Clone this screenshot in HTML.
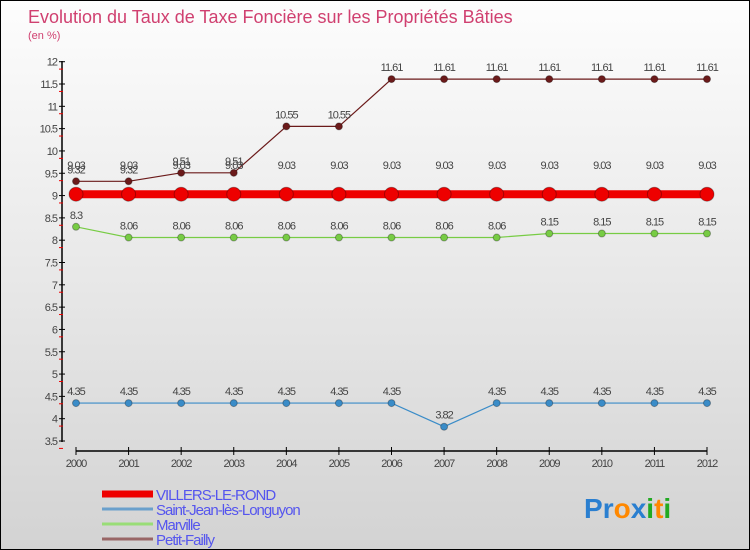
<!DOCTYPE html>
<html><head><meta charset="utf-8"><style>
body{margin:0}
#c{width:750px;height:550px;position:relative;background:linear-gradient(#fdfdfd,#d3d3d3);font-family:"Liberation Sans",sans-serif;overflow:hidden;box-sizing:border-box;border:1px solid #000}
</style></head><body>
<div id="c">
<svg id="s" width="750" height="550" style="position:absolute;left:0;top:0"></svg>
</div>
<script>
const years=[2000,2001,2002,2003,2004,2005,2006,2007,2008,2009,2010,2011,2012];
const villers=[9.03,9.03,9.03,9.03,9.03,9.03,9.03,9.03,9.03,9.03,9.03,9.03,9.03];
const saintJean=[4.35,4.35,4.35,4.35,4.35,4.35,4.35,3.82,4.35,4.35,4.35,4.35,4.35];
const marville=[8.3,8.06,8.06,8.06,8.06,8.06,8.06,8.06,8.06,8.15,8.15,8.15,8.15];
const petitFailly=[9.32,9.32,9.51,9.51,10.55,10.55,11.61,11.61,11.61,11.61,11.61,11.61,11.61];
const yTicks=[3.5,4,4.5,5,5.5,6,6.5,7,7.5,8,8.5,9,9.5,10,10.5,11,11.5,12];
const seriesNames=["VILLERS-LE-ROND","Saint-Jean-lès-Longuyon","Marville","Petit-Failly"];
const NS="http://www.w3.org/2000/svg",s=document.getElementById('s');
const X=i=>75+i*(706-75)/12, Y=v=>440-(v-3.5)*(440-60.7)/8.5;
function el(t,a,txt){const e=document.createElementNS(NS,t);for(const k in a)e.setAttribute(k,a[k]);if(txt!=null)e.textContent=txt;s.appendChild(e);return e;}
let e;
e=el('text',{x:27,y:22,'font-size':18,fill:'#d04070'},'Evolution du Taux de Taxe Foncière sur les Propriétés Bâties');

e=el('text',{x:27,y:38,'font-size':11,fill:'#d04070'},'(en %)');

e=el('line',{x1:61,y1:60,x2:61,y2:441,stroke:'#000','stroke-width':1.5});

yTicks.forEach(v=>{const y=Y(v);
 el('line',{x1:58,x2:64,y1:y,y2:y,stroke:'#000'});
 const r=el('line',{x1:58,x2:62,y1:y+7.4,y2:y+7.4,stroke:'#e00'});
 e=el('text',{x:56,y:y+4,'font-size':11,'text-anchor':'end',fill:'#444','letter-spacing':'-1'},String(v));
 
});
e=el('line',{x1:75,y1:450,x2:706,y2:450,stroke:'#000','stroke-width':1.5});

years.forEach((yr,i)=>{el('line',{x1:X(i),x2:X(i),y1:446,y2:454,stroke:'#000'});
 e=el('text',{x:X(i),y:466,'font-size':11,'text-anchor':'middle',fill:'#444','letter-spacing':'-1'},String(yr));
 });
function series(data,color,w,r,name,labelDy){
 e=el('polyline',{points:data.map((v,i)=>X(i)+','+Y(v)).join(' '),fill:'none',stroke:color,'stroke-width':w});
 
 data.forEach((v,i)=>{e=el('circle',{cx:X(i),cy:Y(v),r:r,fill:color,stroke:'rgba(0,0,0,0.3)'});
  
  e=el('text',{x:X(i),y:Y(v)+labelDy,'font-size':11,'text-anchor':'middle',fill:'#444','letter-spacing':'-1'},String(v));
  });
}
series(saintJean,'#3a8cc8',1.2,3.5,'saint-jean',-8);
series(marville,'#77cc44',1.2,3.5,'marville',-8);
series(petitFailly,'#6b1a1a',1.2,3.5,'petit-failly',-8);
series(villers,'#ee0000',8,7,'villers',-25);
const legColors=['#ee0000','#6aa0cc','#99dd77','#996666'],legW=[7,3,3,3];
seriesNames.forEach((n,i)=>{const y=493+i*15;
 e=el('line',{x1:101,x2:152,y1:y,y2:y,stroke:legColors[i],'stroke-width':legW[i]});
 
 e=el('text',{x:155,y:y+6,'font-size':15,fill:'#5555ee','letter-spacing':'-1'},n);
 });
e=el('text',{x:583,y:517,'font-size':28,'font-weight':'bold','font-family':'Liberation Sans,sans-serif'});

[['P','#2a7fd0'],['r','#2a7fd0'],['o','#ff8800'],['x','#2a7fd0'],['i','#22aa22'],['t','#ff8800'],['i','#22aa22']].forEach(([c,f])=>{const t=document.createElementNS(NS,'tspan');t.setAttribute('fill',f);t.textContent=c;e.appendChild(t);});
</script>
</body></html>
